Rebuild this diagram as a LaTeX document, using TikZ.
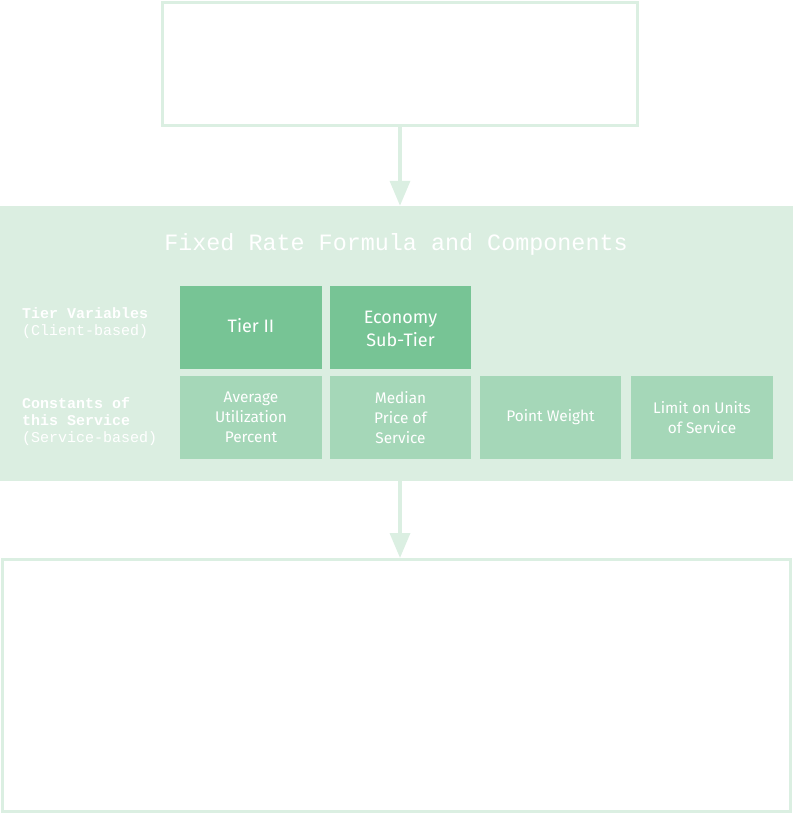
\documentclass[tikz,border=0pt]{standalone}
\usepackage{fontspec}
\setmainfont{Fira Sans}
\setmonofont{Liberation Mono}
\usetikzlibrary{arrows.meta}
\definecolor{paleline}{HTML}{DBEFE2}
\definecolor{panelbg}{HTML}{DBEEE1}
\definecolor{tierfill}{HTML}{77C495}
\definecolor{constfill}{HTML}{A5D7B8}
\tikzset{
  outlinebox/.style={draw=paleline, line width=3pt, fill=white, inner sep=0pt},
  flowarrow/.style={draw=paleline, line width=3.5pt,
    -{Triangle[width=20pt,length=25pt]}},
  tierbox/.style={fill=tierfill, text=white, inner sep=0pt, align=center,
    minimum height=83pt, font=\fontsize{18}{23}\selectfont},
  constbox/.style={fill=constfill, text=white, inner sep=0pt, align=center,
    minimum height=83pt, font=\fontsize{15.4}{20}\selectfont},
  rowlabel/.style={anchor=west, text=white, inner sep=0pt, align=left,
    font=\ttfamily\fontsize{15}{17}\selectfont}
}
\begin{document}
\begin{tikzpicture}[x=1pt, y=-1pt]
\useasboundingbox (0,0) rectangle (793,814);

% source box at the top
\node[outlinebox, minimum width=475pt, minimum height=123pt] (src) at (400,64) {};

% shaded panel with the formula components
\node[fill=panelbg, inner sep=0pt, minimum width=793pt, minimum height=275pt] (panel) at (396.5,343.5) {};
\node[text=white, inner sep=0pt, font=\ttfamily\fontsize{23.4}{26}\selectfont] (title) at (396,244) {Fixed Rate Formula and Components};

\node[rowlabel] (tierlbl) at (22,323) {\textbf{Tier Variables}\\(Client-based)};
\node[rowlabel] (constlbl) at (22,422) {\textbf{Constants of}\\\textbf{this Service}\\(Service-based)};

\node[tierbox, minimum width=142pt] (tier) at (251,327.5) {\raisebox{-5pt}[0pt][0pt]{Tier II}};
\node[tierbox, minimum width=141pt] (subtier) at (400.5,327.5) {\raisebox{-7.4pt}[0pt][0pt]{\begin{tabular}{@{}c@{}}Economy\\Sub-Tier\end{tabular}}};

\node[constbox, minimum width=142pt] (util) at (251,417.5) {Average\\Utilization\\Percent};
\node[constbox, minimum width=141pt] (price) at (400.5,417.5) {Median\\Price of\\Service};
\node[constbox, minimum width=141pt] (weight) at (550.5,417.5) {Point Weight};
\node[constbox, minimum width=142pt] (limit) at (702,417.5) {Limit on Units\\of Service};

% result box at the bottom
\node[outlinebox, minimum width=788pt, minimum height=252pt] (result) at (396.5,685.5) {};

% connectors
\draw[flowarrow] (src.south) -- (src.south |- panel.north);
\draw[flowarrow] (src.south |- panel.south) -- (src.south |- result.north);
\end{tikzpicture}
\end{document}
